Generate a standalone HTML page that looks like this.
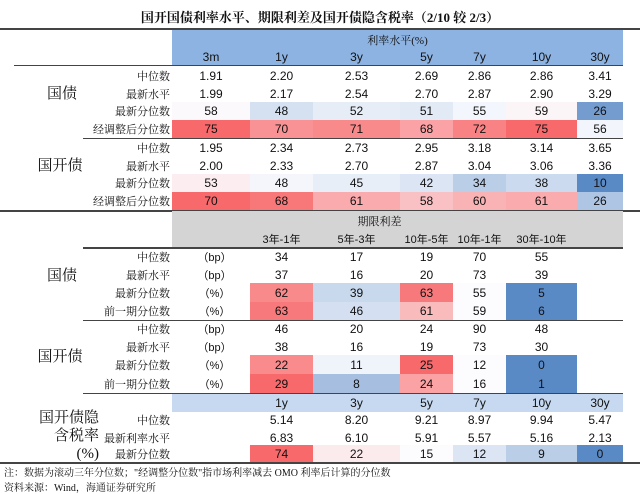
<!DOCTYPE html>
<html><head><meta charset="utf-8">
<style>
body{margin:0;background:#fff;}
#root{position:relative;width:640px;height:494px;overflow:hidden;font-family:"Liberation Sans","Noto Sans CJK SC",sans-serif;color:#111;}
.a{position:absolute;box-sizing:border-box;}
.c{display:flex;align-items:center;justify-content:center;font-size:12px;}
.lab{font-family:"Liberation Serif","Noto Serif CJK SC",serif;font-size:11px;text-align:right;}
.big{font-family:"Liberation Serif","Noto Serif CJK SC",serif;font-size:15px;}
.rule{background:#444;height:1.5px;}
</style></head><body>
<div id="root"></div>
<script>
// ---- data ----
const rateCols = ["3m","1y","3y","5y","7y","10y","30y"];
const govMedian = ["1.91","2.20","2.53","2.69","2.86","2.86","3.41"];
const govLatest = ["1.99","2.17","2.54","2.70","2.87","2.90","3.29"];
const govPct = [58,48,52,51,55,59,26];
const govAdjPct = [75,70,71,68,72,75,56];
const cdbMedian = ["1.95","2.34","2.73","2.95","3.18","3.14","3.65"];
const cdbLatest = ["2.00","2.33","2.70","2.87","3.04","3.06","3.36"];
const cdbPct = [53,48,45,42,34,38,10];
const cdbAdjPct = [70,68,61,58,60,61,26];
const spreadCols = ["3年-1年","5年-3年","10年-5年","10年-1年","30年-10年"];
const govSpMedian = [34,17,19,70,55];
const govSpLatest = [37,16,20,73,39];
const govSpPct = [62,39,63,55,5];
const govSpPrev = [63,46,61,59,6];
const cdbSpMedian = [46,20,24,90,48];
const cdbSpLatest = [38,16,19,73,30];
const cdbSpPct = [22,11,25,12,0];
const cdbSpPrev = [29,8,24,16,1];
const taxCols = ["1y","3y","5y","7y","10y","30y"];
const taxMedian = ["5.14","8.20","9.21","8.97","9.94","5.47"];
const taxLatest = ["6.83","6.10","5.91","5.57","5.16","2.13"];
const taxPct = [74,22,15,12,9,0];

// ---- layout ----
const R = document.getElementById('root');
const bounds = [172,250,313,400,453,506,577,623];
function add(cls, x, y, w, h, txt, name, style){
  const d = document.createElement('div');
  d.className = 'a ' + cls;
  d.style.left = x+'px'; d.style.top = y+'px'; d.style.width = w+'px'; d.style.height = h+'px';
  if (style) d.style.cssText += style;
  if (txt !== null && txt !== undefined) d.textContent = txt;
  
  
  R.appendChild(d);
  return d;
}
function mix(a,b,t){return 'rgb('+a.map((v,i)=>Math.round(v+(b[i]-v)*t)).join(',')+')';}
const RED=[248,105,107], BLUE=[90,138,198], WHITE=[252,252,255];
function heat(v, lo, mid, hi){
  if (v >= mid) return mix(WHITE, RED, Math.min(1,(v-mid)/(hi-mid)));
  return mix(WHITE, BLUE, Math.min(1,(mid-v)/(mid-lo)));
}
function row(vals, y, h, colOffset, name, scale){
  vals.forEach((v,i)=>{
    const x0 = bounds[i+colOffset], x1 = bounds[i+colOffset+1];
    const bg = scale ? 'background:'+heat(v,scale[0],scale[1],scale[2])+';' : '';
    add('c', x0, y, x1-x0, h, String(v), name+'-'+i, bg);
  });
}
function label(t, y, h, name){ add('lab c', 60, y, 110, h, t, name, 'justify-content:flex-end;'); }

// title
add('c', 0, 4, 640, 24, '国开国债利率水平、期限利差及国开债隐含税率（2/10 较 2/3）', 'chart-title', 'font-weight:bold;font-size:13px;font-family:"Liberation Serif","Noto Serif CJK SC",serif;');
add('rule', 0, 28, 640, 1.5, null, 'title-rule');

// section 1 header
add('', 172, 30, 451, 35, null, 'rate-header-bg', 'background:#8db3e2;');
add('c', 172, 32, 451, 16, '利率水平(%)', 'rate-header-title', 'font-size:11px;font-family:"Liberation Serif","Noto Serif CJK SC",serif;');
rateCols.forEach((c,i)=>add('c', bounds[i], 49, bounds[i+1]-bounds[i], 16, c, 'rate-col-'+c));
add('rule', 14, 65, 609, 1.2, null, 'header-rule');

const rh = 18;
label('中位数', 67, rh, 'gov-median-label'); row(govMedian, 67, rh, 0, 'gov-median');
label('最新水平', 85, rh, 'gov-latest-label'); row(govLatest, 85, rh, 0, 'gov-latest');
label('最新分位数', 102, 18, 'gov-pct-label'); row(govPct, 102, 18, 0, 'gov-pct', [20,57,100]);
label('经调整后分位数', 120, 18, 'gov-adj-label'); row(govAdjPct, 120, 18, 0, 'gov-adj', [40,57,75]);
add('big c', 32, 80, 60, 24, '国债', 'gov-group-label');
add('rule', 83, 138, 540, 1.2, null, 'gov-rule');

label('中位数', 139, rh, 'cdb-median-label'); row(cdbMedian, 139, rh, 0, 'cdb-median');
label('最新水平', 157, rh, 'cdb-latest-label'); row(cdbLatest, 157, rh, 0, 'cdb-latest');
label('最新分位数', 174, 18, 'cdb-pct-label'); row(cdbPct, 174, 18, 0, 'cdb-pct', [10,50,80]);
label('经调整后分位数', 192, 18, 'cdb-adj-label'); row(cdbAdjPct, 192, 18, 0, 'cdb-adj', [0,50,70]);
add('big c', 25, 152, 70, 24, '国开债', 'cdb-group-label');
add('rule', 0, 210, 640, 1.5, null, 'section1-rule');

// section 2 header
add('', 172, 211, 451, 36, null, 'spread-header-bg', 'background:#d4d4d4;');
add('c', 172, 213, 415, 16, '期限利差', 'spread-header-title', 'font-size:11px;font-family:"Liberation Serif","Noto Serif CJK SC",serif;');
spreadCols.forEach((c,i)=>add('c', bounds[i+1], 231, bounds[i+2]-bounds[i+1], 16, c, 'spread-col-'+i, 'font-size:11px;'));
add('rule', 83, 247, 540, 1.5, null, 'spread-header-rule');

function unit(t,y,h,name){ add('c', 187, y, 55, h, t, name, 'font-size:11px;'); }
label('中位数', 248, 18, 'gsp-median-label'); unit('（bp）',248,18,'gsp-median-unit'); row(govSpMedian, 248, 18, 1, 'gsp-median');
label('最新水平', 266, 18, 'gsp-latest-label'); unit('（bp）',266,18,'gsp-latest-unit'); row(govSpLatest, 266, 18, 1, 'gsp-latest');
label('最新分位数', 283, 19, 'gsp-pct-label'); unit('（%）',283,19,'gsp-pct-unit'); row(govSpPct, 283, 19, 1, 'gsp-pct', [5,55,64]);
label('前一期分位数', 302, 18, 'gsp-prev-label'); unit('（%）',302,18,'gsp-prev-unit'); row(govSpPrev, 302, 18, 1, 'gsp-prev', [6,59,63.5]);
add('big c', 32, 262, 60, 24, '国债', 'gsp-group-label');
add('rule', 83, 320, 540, 1.2, null, 'gsp-rule');

label('中位数', 320, 18, 'csp-median-label'); unit('（bp）',320,18,'csp-median-unit'); row(cdbSpMedian, 320, 18, 1, 'csp-median');
label('最新水平', 338, 18, 'csp-latest-label'); unit('（bp）',338,18,'csp-latest-unit'); row(cdbSpLatest, 338, 18, 1, 'csp-latest');
label('最新分位数', 355, 19, 'csp-pct-label'); unit('（%）',355,19,'csp-pct-unit'); row(cdbSpPct, 355, 19, 1, 'csp-pct', [0,12,25]);
label('前一期分位数', 374, 19, 'csp-prev-label'); unit('（%）',374,19,'csp-prev-unit'); row(cdbSpPrev, 374, 19, 1, 'csp-prev', [1,16,29]);
add('big c', 25, 343, 70, 24, '国开债', 'csp-group-label');
add('rule', 83, 393, 540, 1.2, null, 'csp-rule');

// section 3
add('', 172, 394, 451, 18, null, 'tax-header-bg', 'background:#c6d9f1;');
taxCols.forEach((c,i)=>add('c', bounds[i+1], 394, bounds[i+2]-bounds[i+1], 18, c, 'tax-col-'+c));
label('中位数', 411, 18, 'tax-median-label'); row(taxMedian, 411, 18, 1, 'tax-median');
label('最新利率水平', 429, 18, 'tax-latest-label'); row(taxLatest, 429, 18, 1, 'tax-latest');
label('最新分位数', 445, 17, 'tax-pct-label'); row(taxPct, 445, 17, 1, 'tax-pct', [0,15,74]);
add('big', 0, 409, 99, 56, null, 'tax-group-label', 'text-align:right;line-height:18px;white-space:nowrap;').innerHTML='国开债隐<br>含税率<br>(%)';
add('rule', 0, 462, 640, 1.5, null, 'bottom-rule');

add('', 4, 464, 636, 14, '注：数据为滚动三年分位数；"经调整分位数"指市场利率减去 OMO 利率后计算的分位数', 'footnote', 'font-size:10px;font-family:"Liberation Serif","Noto Serif CJK SC",serif;');
add('', 4, 479, 636, 14, '资料来源：Wind，海通证券研究所', 'source-note', 'font-size:10px;font-family:"Liberation Serif","Noto Serif CJK SC",serif;');
</script>
</body></html>
